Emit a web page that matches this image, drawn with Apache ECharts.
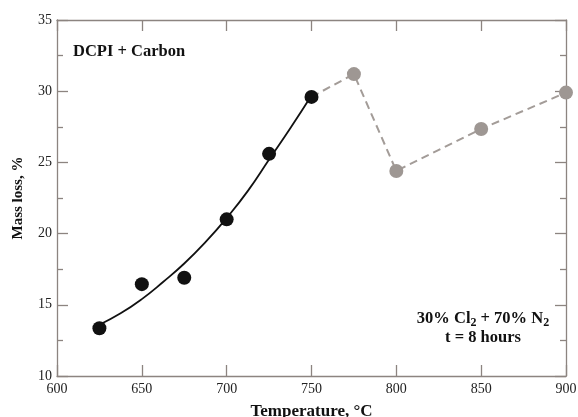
<!DOCTYPE html>
<html>
<head>
<meta charset="utf-8">
<script src="https://cdn.jsdelivr.net/npm/echarts@6/dist/echarts.min.js"></script>
<style>html,body{margin:0;padding:0;background:#fff}#c{width:578px;height:417px}</style>
</head>
<body>
<div id="c"></div>
<script>
// Measured data (black, DCPI + Carbon)
var blackTemps = [625, 650, 675, 700, 725, 750];
var blackLoss = [13.35, 16.45, 16.9, 21.0, 25.6, 29.6];
// Grey measurements
var greyTemps = [775, 800, 850, 900];
var greyLoss = [31.2, 24.4, 27.35, 29.9];
// Fitted curve
var fitTemps = [625, 637.5, 650, 662.5, 675, 687.5, 700, 712.5, 725, 737.5, 750];
var fitLoss = [13.6, 14.4, 15.4, 16.6, 17.9, 19.4, 21.1, 23.0, 25.2, 27.4, 29.7];
// Dashed connector (starts at last black point)
var dashTemps = [750, 775, 800, 850, 900];
var dashLoss = [29.6, 31.2, 24.4, 27.35, 29.9];
var xTicks = [600, 650, 700, 750, 800, 850, 900];
var yTicks = [10, 15, 20, 25, 30, 35];

function pairs(xs, ys) { return xs.map(function (x, i) { return [x, ys[i]]; }); }

var axisColor = '#8c8480';
var font = 'Liberation Serif';
var chart = echarts.init(document.getElementById('c'));
chart.setOption({
  animation: false,
  backgroundColor: '#fff',
  grid: { left: 57, right: 12, top: 20, bottom: 41, containLabel: false, outerBoundsMode: 'none' },
  xAxis: [{
    type: 'value', min: xTicks[0], max: xTicks[xTicks.length - 1], interval: 50, position: 'bottom',
    axisLine: { show: true, lineStyle: { color: axisColor, width: 1.3 } },
    axisTick: { show: true, inside: true, length: 11, lineStyle: { color: axisColor, width: 1.3 } },
    axisLabel: { color: '#222', fontFamily: font, fontSize: 14, margin: 6 },
    splitLine: { show: false },
    name: 'Temperature, °C', nameLocation: 'middle', nameGap: 27,
    nameTextStyle: { color: '#111', fontFamily: font, fontSize: 17, fontWeight: 'bold' }
  }, {
    type: 'value', min: 600, max: 900, interval: 50, position: 'top',
    axisLine: { show: true, lineStyle: { color: axisColor, width: 1.3 } },
    axisTick: { show: true, inside: true, length: 11, lineStyle: { color: axisColor, width: 1.3 } },
    axisLabel: { show: false }, splitLine: { show: false }
  }],
  yAxis: [{
    type: 'value', min: yTicks[0], max: yTicks[yTicks.length - 1], interval: 5, position: 'left',
    axisLine: { show: true, lineStyle: { color: axisColor, width: 1.3 } },
    axisTick: { show: true, inside: true, length: 11, lineStyle: { color: axisColor, width: 1.3 } },
    minorTick: { show: true, splitNumber: 2, length: 6, lineStyle: { color: axisColor, width: 1.3 } },
    axisLabel: { color: '#222', fontFamily: font, fontSize: 14, margin: 5 },
    splitLine: { show: false },
    name: 'Mass loss, %', nameLocation: 'middle', nameGap: 31,
    nameTextStyle: { color: '#111', fontFamily: font, fontSize: 15, fontWeight: 'bold' }
  }, {
    type: 'value', min: 10, max: 35, interval: 5, position: 'right',
    axisLine: { show: true, lineStyle: { color: axisColor, width: 1.3 } },
    axisTick: { show: true, inside: true, length: 11, lineStyle: { color: axisColor, width: 1.3 } },
    minorTick: { show: true, splitNumber: 2, length: 6, lineStyle: { color: axisColor, width: 1.3 } },
    axisLabel: { show: false }, splitLine: { show: false }
  }],
  series: [{
    type: 'line', data: pairs(dashTemps, dashLoss), symbol: 'none',
    lineStyle: { color: '#a39c98', width: 2, type: [8, 5] }, z: 2
  }, {
    type: 'line', data: pairs(fitTemps, fitLoss), symbol: 'none', smooth: true,
    lineStyle: { color: '#111', width: 1.8 }, z: 3
  }, {
    type: 'scatter', data: pairs(blackTemps, blackLoss), symbol: 'circle', symbolSize: 14,
    itemStyle: { color: '#111', opacity: 1 }, z: 4
  }, {
    type: 'scatter', data: pairs(greyTemps, greyLoss), symbol: 'circle', symbolSize: 14,
    itemStyle: { color: '#9e9793', opacity: 1 }, z: 4
  }],
  graphic: [{
    type: 'text', left: 73, top: 43,
    style: { text: 'DCPI + Carbon', fontFamily: font, fontSize: 16.5, fontWeight: 'bold', fill: '#111' }
  }, {
    type: 'text', x: 483, y: 319,
    style: {
      text: '{a|30% Cl}{s|2}{a| + 70% N}{s|2}',
      align: 'center', verticalAlign: 'middle',
      rich: {
        a: { fontFamily: font, fontSize: 16.5, fontWeight: 'bold', fill: '#111', lineHeight: 20 },
        s: { fontFamily: font, fontSize: 12, fontWeight: 'bold', fill: '#111', lineHeight: 20, verticalAlign: 'bottom', padding: [7, 0, 0, 0] }
      }
    }
  }, {
    type: 'text', x: 483, y: 338,
    style: { text: 't = 8 hours', align: 'center', verticalAlign: 'middle', fontFamily: font, fontSize: 16.5, fontWeight: 'bold', fill: '#111' }
  }]
});
</script>
</body>
</html>
